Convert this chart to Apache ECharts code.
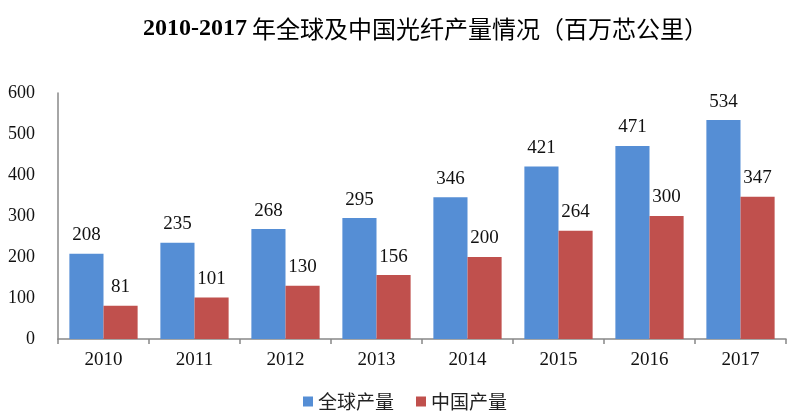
<!DOCTYPE html>
<html>
<head>
<meta charset="utf-8">
<script src="https://cdn.jsdelivr.net/npm/echarts@6/dist/echarts.min.js"></script>
<style>html,body{margin:0;padding:0;background:#fff;}#c{width:810px;height:419px;}</style>
</head>
<body>
<div id="c"></div>
<script>
const categories = ['2010','2011','2012','2013','2014','2015','2016','2017'];
const globalOutput = [208,235,268,295,346,421,471,534];
const chinaOutput = [81,101,130,156,200,264,300,347];
const seriesNames = ['全球产量','中国产量'];

const serif = '"Liberation Serif","Times New Roman","Noto Sans CJK SC",serif';
const chart = echarts.init(document.getElementById('c'), null, {renderer:'canvas'});
chart.setOption({
  animation: false,
  backgroundColor: '#fff',
  title: {
    text: '{a|2010-2017} {b|年全球及中国光纤产量情况（百万芯公里）}',
    left: 138,
    top: 12,
    textStyle: {
      rich: {
        a: {fontFamily: serif, fontWeight: 'bold', fontSize: 24, color: '#000'},
        b: {fontFamily: '"Noto Sans CJK SC",sans-serif', fontWeight: 'normal', fontSize: 24, color: '#000'}
      }
    }
  },
  legend: {
    bottom: 3,
    left: 'center',
    itemWidth: 10,
    itemHeight: 10,
    itemGap: 22,
    icon: 'rect',
    textStyle: {fontFamily: '"Noto Sans CJK SC",sans-serif', fontSize: 19, color: '#222'},
    data: seriesNames
  },
  grid: {left: 58, right: 24, top: 93, bottom: 80, containLabel: false},
  xAxis: {
    type: 'category',
    data: categories,
    axisLine: {lineStyle: {color: '#888', width: 1.5}},
    axisTick: {show: true, length: 5, lineStyle: {color: '#888', width: 1.5}},
    axisLabel: {fontFamily: serif, fontSize: 19, color: '#111', margin: 12}
  },
  yAxis: {
    type: 'value',
    min: 0, max: 600, interval: 100,
    splitLine: {show: false},
    axisLine: {show: true, lineStyle: {color: '#888', width: 1.5}},
    axisTick: {show: false},
    axisLabel: {fontFamily: serif, fontSize: 18, color: '#111', margin: 23}
  },
  series: [
    {
      name: seriesNames[0], type: 'bar', data: globalOutput,
      barGap: '0%', barCategoryGap: '25%',
      itemStyle: {color: '#558ed5'},
      label: {show: true, position: 'top', distance: 9, fontFamily: serif, fontSize: 19, color: '#111'}
    },
    {
      name: seriesNames[1], type: 'bar', data: chinaOutput,
      barGap: '0%', barCategoryGap: '25%',
      itemStyle: {color: '#c0504d'},
      label: {show: true, position: 'top', distance: 9, fontFamily: serif, fontSize: 19, color: '#111'}
    }
  ]
});
</script>
</body>
</html>
